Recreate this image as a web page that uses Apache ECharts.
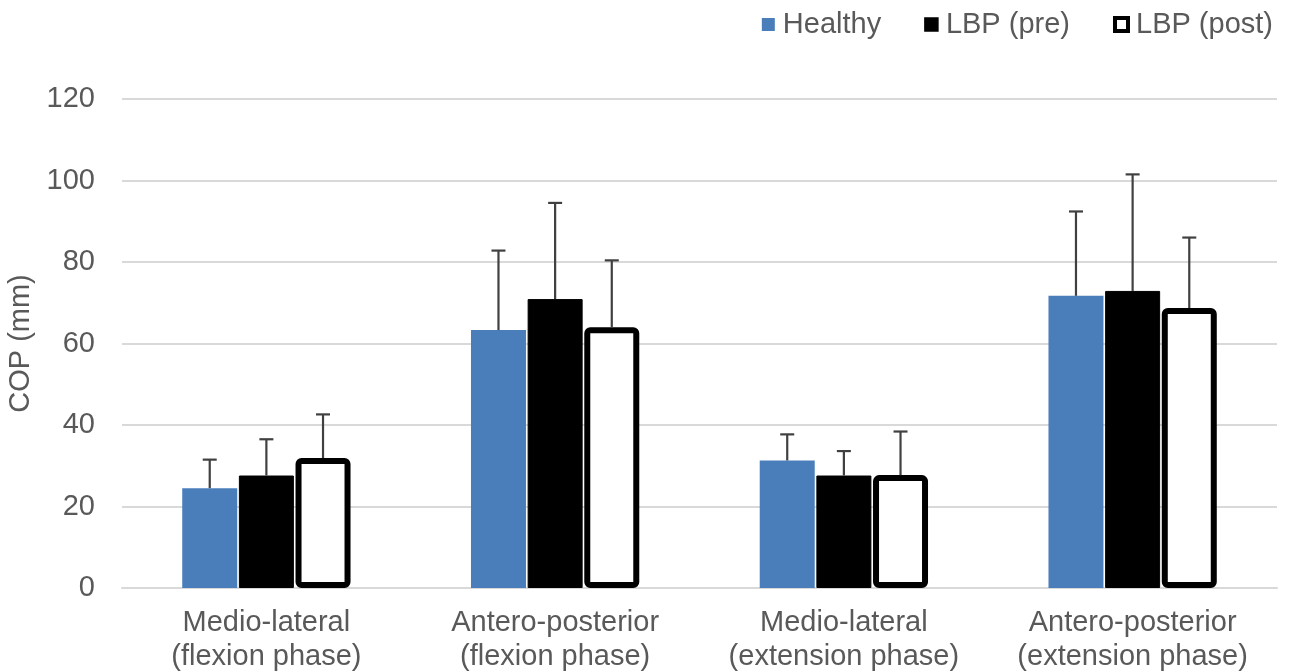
<!DOCTYPE html>
<html>
<head>
<meta charset="utf-8">
<script src="https://cdn.jsdelivr.net/npm/echarts@6/dist/echarts.min.js"></script>
<style>
  html, body { margin: 0; padding: 0; background: #ffffff; }
  #chart { width: 1293px; height: 672px; }
</style>
</head>
<body>
<div id="chart"></div>
<script>
// Centre-of-pressure excursion by movement direction and phase
const categories = [
  'Medio-lateral\n(flexion phase)',
  'Antero-posterior\n(flexion phase)',
  'Medio-lateral\n(extension phase)',
  'Antero-posterior\n(extension phase)'
];
const seriesNames = ['Healthy', 'LBP (pre)', 'LBP (post)'];

// Means (mm)
const healthyMean = [24.5, 63.3, 31.3, 71.7];
const lbpPreMean  = [27.6, 70.9, 27.6, 72.9];
const lbpPostMean = [31.9, 64.0, 27.7, 68.7];

// Standard deviations (mm), drawn as upper error bars
const healthySd = [7.0, 19.5, 6.4, 20.7];
const lbpPreSd  = [8.9, 23.6, 6.0, 28.6];
const lbpPostSd = [10.7, 16.4, 10.7, 17.3];

const yTicks = { min: 0, max: 120, interval: 20 };

const BAR_W = 55;
const BAR_GAP = 0.03;   // fraction of bar width
const textColor = '#595959';
const font = 'Liberation Sans, Arial, sans-serif';
const FS = 29;

const barStyles = [
  { color: '#4a7ebb', borderColor: '#4a7ebb', borderWidth: 0 },
  { color: '#000000', borderColor: '#000000', borderWidth: 1 },
  { color: '#ffffff', borderColor: '#000000', borderWidth: 6, borderRadius: 3 }
];
const means = [healthyMean, lbpPreMean, lbpPostMean];
const sds = [healthySd, lbpPreSd, lbpPostSd];

function errorSeries(idx) {
  const data = means[idx].map((m, i) => [i, m, m + sds[idx][i]]);
  return {
    type: 'custom',
    name: seriesNames[idx] + ' SD',
    z: 10,
    silent: true,
    data: data,
    encode: { x: 0, y: [1, 2] },
    renderItem: function (params, api) {
      const c = api.value(0);
      const offset = (idx - 1) * BAR_W * (1 + BAR_GAP);
      const base = api.coord([c, api.value(1)]);
      const top = api.coord([c, api.value(2)]);
      const x = base[0] + offset;
      const half = 7;
      const style = { stroke: '#404040', lineWidth: 2.2, fill: null };
      return {
        type: 'group',
        children: [
          { type: 'line', shape: { x1: x, y1: base[1], x2: x, y2: top[1] }, style: style },
          { type: 'line', shape: { x1: x - half, y1: top[1], x2: x + half, y2: top[1] }, style: style }
        ]
      };
    }
  };
}

const barSeries = seriesNames.map((name, idx) => ({
  type: 'bar',
  name: name,
  data: means[idx],
  barWidth: BAR_W,
  barGap: (BAR_GAP * 100) + '%',
  itemStyle: barStyles[idx],
  emphasis: { disabled: true }
}));

const chart = echarts.init(document.getElementById('chart'), null, { renderer: 'canvas' });
chart.setOption({
  animation: false,
  backgroundColor: '#ffffff',
  textStyle: { fontFamily: font },
  grid: { left: 122, right: 16, top: 99, bottom: 84, containLabel: false, outerBoundsMode: 'none' },
  legend: {
    right: 15,
    top: 5,
    itemWidth: 13,
    itemHeight: 13,
    itemGap: 43,
    textStyle: { color: textColor, fontSize: FS, fontFamily: font, padding: [0, 0, 0, 3] },
    data: [
      { name: 'Healthy', icon: 'rect', itemStyle: { color: '#4a7ebb', borderWidth: 0 } },
      { name: 'LBP (pre)', icon: 'rect', itemStyle: { color: '#000000', borderColor: '#000000', borderWidth: 1.5 } },
      { name: 'LBP (post)', icon: 'rect', itemStyle: { color: '#ffffff', borderColor: '#000000', borderWidth: 4 } }
    ]
  },
  xAxis: {
    type: 'category',
    data: categories,
    axisLine: { show: true, lineStyle: { color: '#d9d9d9', width: 2 } },
    axisTick: { show: false },
    axisLabel: { color: textColor, fontSize: FS, fontFamily: font, lineHeight: 34, margin: 18, interval: 0 }
  },
  yAxis: {
    type: 'value',
    min: yTicks.min,
    max: yTicks.max,
    interval: yTicks.interval,
    name: 'COP (mm)',
    nameLocation: 'middle',
    nameGap: 68,
    nameRotate: 90,
    nameTextStyle: { color: textColor, fontSize: FS, fontFamily: font },
    axisLine: { show: false },
    axisTick: { show: false },
    axisLabel: { color: textColor, fontSize: FS, fontFamily: font, margin: 27 },
    splitLine: { lineStyle: { color: '#d9d9d9', width: 2 } }
  },
  series: barSeries.concat([errorSeries(0), errorSeries(1), errorSeries(2)])
});
</script>
</body>
</html>
